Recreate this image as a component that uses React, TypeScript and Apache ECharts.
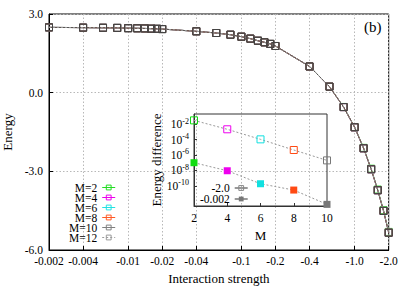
import React, { useEffect, useRef } from 'react';
import * as echarts from 'echarts';

const FONT = 'Liberation Serif';

const strengths = [-0.002, -0.004, -0.006, -0.008, -0.01, -0.012, -0.014, -0.016, -0.018, -0.02, -0.04, -0.06, -0.08, -0.1, -0.12, -0.14, -0.16, -0.18, -0.2, -0.4, -0.6, -0.8, -1.0, -1.2, -1.4, -1.6, -1.8, -2.0];
const energyLargeM = [2.49, 2.48, 2.475, 2.47, 2.46, 2.455, 2.45, 2.44, 2.435, 2.425, 2.34, 2.275, 2.21, 2.135, 2.06, 1.98, 1.92, 1.86, 1.78, 1.0, 0.23, -0.55, -1.32, -2.12, -2.92, -3.72, -4.51, -5.34];
const energyM2 = [2.49, 2.48, 2.475, 2.47, 2.46, 2.455, 2.45, 2.44, 2.435, 2.425, 2.34, 2.275, 2.21, 2.135, 2.06, 1.98, 1.92, 1.86, 1.78, 1.0, 0.232, -0.545, -1.31, -2.105, -2.9, -3.695, -4.48, -5.31];

const mLabels = ['M=2', 'M=4', 'M=6', 'M=8', 'M=10', 'M=12'];
const mColors = ['#22dd22', '#ee00ee', '#22e2e2', '#ff5a26', '#808080', '#9a9a9a'];
const mEnergies = [energyM2, energyLargeM, energyLargeM, energyLargeM, energyLargeM, energyLargeM];

const xTickValues = [-0.002, -0.004, -0.01, -0.02, -0.04, -0.1, -0.2, -0.4, -1.0, -2.0];
const xTickLabels = ['-0.002', '-0.004', '-0.01', '-0.02', '-0.04', '-0.1', '-0.2', '-0.4', '-1.0', '-2.0'];

const insetM = [2, 4, 6, 8, 10];
const insetColors = ['#11dd11', '#ee00ee', '#11e0e0', '#ff4a14', '#777777'];
const diffStrong = [3.0e-2, 2.1e-3, 1.05e-4, 4.4e-6, 2.0e-7]; // interaction -2.0
const diffWeak = [1.0e-7, 9.1e-9, 1.9e-10, 2.9e-11, 4.1e-13]; // interaction -0.002
const insetYTicks = [1e-10, 1e-8, 1e-6, 1e-4, 1e-2];

const lg = (v: number) => Math.log10(Math.abs(v));

export default function App() {
  const ref = useRef<HTMLDivElement>(null);
  useEffect(() => {
    if (!ref.current) return;
    const chart = echarts.init(ref.current, undefined, { renderer: 'svg' });
    const mainSeries = mLabels.map((name, i) => ({
      name,
      type: 'line',
      xAxisIndex: 0,
      yAxisIndex: 0,
      data: strengths.map((s, k) => [lg(s), mEnergies[i][k]]),
      symbol: 'rect',
      symbolSize: 7,
      itemStyle: { color: 'transparent', borderColor: i >= 4 ? '#444' : mColors[i], borderWidth: 1 },
      lineStyle: { color: i === 5 ? '#9a9a9a' : i === 4 ? '#555' : mColors[i], width: 1, type: i === 5 ? [2, 2] : 'solid' },
      z: 2 + i,
    }));
    const insetSeries = [
      {
        name: '-2.0',
        type: 'line',
        xAxisIndex: 1,
        yAxisIndex: 1,
        data: insetM.map((m, k) => ({ value: [m, lg(diffStrong[k])], itemStyle: { borderColor: insetColors[k] } })),
        symbol: 'rect',
        symbolSize: 7,
        itemStyle: { color: 'transparent', borderColor: '#888', borderWidth: 1 },
        lineStyle: { color: '#999', width: 1, type: [2, 2] },
        z: 10,
      },
      {
        name: '-0.002',
        type: 'line',
        xAxisIndex: 1,
        yAxisIndex: 1,
        data: insetM.map((m, k) => ({ value: [m, lg(diffWeak[k])], itemStyle: { color: insetColors[k] } })),
        symbol: 'rect',
        symbolSize: 7,
        itemStyle: { color: '#777' },
        lineStyle: { color: '#999', width: 1, type: [2, 2] },
        z: 10,
      },
    ];
    const axisText = { color: '#000', fontFamily: FONT, fontSize: 11.5 };
    chart.setOption({
      animation: false,
      backgroundColor: '#fff',
      textStyle: { fontFamily: FONT },
      grid: [
        { left: 49, top: 14, width: 339.7, height: 236, show: true, borderColor: '#000', borderWidth: 1, backgroundColor: 'transparent', containLabel: false, outerBoundsMode: 'none' },
        { left: 194, top: 114, width: 133, height: 92, show: true, borderColor: '#333', borderWidth: 1, backgroundColor: 'transparent', containLabel: false, outerBoundsMode: 'none', z: 5 },
      ],
      xAxis: [
        {
          type: 'value',
          gridIndex: 0,
          min: lg(-0.002),
          max: lg(-2.0),
          name: 'Interaction strength',
          nameLocation: 'middle',
          nameGap: 21,
          nameTextStyle: { color: '#000', fontFamily: FONT, fontSize: 13 },
          axisLine: { onZero: false, lineStyle: { color: '#000' } },
          axisTick: { inside: true, length: 4, lineStyle: { color: '#000' }, customValues: xTickValues.map(lg) },
          axisLabel: {
            ...axisText,
            margin: 5,
            customValues: xTickValues.map(lg),
            formatter: (v: number) => {
              const i = xTickValues.findIndex((t) => Math.abs(lg(t) - v) < 1e-6);
              return i >= 0 ? xTickLabels[i] : '';
            },
          },
          splitLine: { show: true, lineStyle: { color: '#b8b8b8', type: [1.5, 2], width: 1 } },
        },
        {
          type: 'value',
          gridIndex: 1,
          min: 2,
          max: 10,
          interval: 2,
          name: 'M',
          nameLocation: 'middle',
          nameGap: 23,
          nameTextStyle: { color: '#000', fontFamily: FONT, fontSize: 13 },
          axisLine: { onZero: false, lineStyle: { color: '#333' } },
          axisTick: { inside: true, length: 3, lineStyle: { color: '#333' } },
          axisLabel: { ...axisText, margin: 6 },
          splitLine: { show: false },
        },
      ],
      yAxis: [
        {
          type: 'value',
          gridIndex: 0,
          min: -6,
          max: 3,
          interval: 3,
          name: 'Energy',
          nameLocation: 'middle',
          nameGap: 34,
          nameTextStyle: { color: '#000', fontFamily: FONT, fontSize: 13 },
          axisLine: { onZero: false, lineStyle: { color: '#000' } },
          axisTick: { inside: true, length: 4, lineStyle: { color: '#000' } },
          axisLabel: { ...axisText, margin: 6, formatter: (v: number) => v.toFixed(1) },
          splitLine: { show: true, lineStyle: { color: '#b8b8b8', type: [1.5, 2], width: 1 } },
        },
        {
          type: 'value',
          gridIndex: 1,
          min: -12.6,
          max: -0.7,
          name: 'Energy difference',
          nameLocation: 'middle',
          nameGap: 31,
          nameTextStyle: { color: '#000', fontFamily: FONT, fontSize: 13 },
          axisLine: { onZero: false, lineStyle: { color: '#333' } },
          axisTick: { inside: true, length: 3, lineStyle: { color: '#333' }, customValues: insetYTicks.map(Math.log10) },
          axisLabel: {
            color: '#000',
            fontFamily: FONT,
            margin: 5,
            customValues: insetYTicks.map(Math.log10),
            formatter: (v: number) => `{b|10}{s|${Math.round(v)}}`,
            rich: {
              b: { fontSize: 11.5, lineHeight: 14, fontFamily: FONT, color: '#000' },
              s: { fontSize: 8, lineHeight: 8, verticalAlign: 'top', fontFamily: FONT, color: '#000' },
            },
          },
          splitLine: { show: false },
        },
      ],
      legend: [
        {
          orient: 'vertical',
          align: 'right',
          left: 69,
          top: 181.5,
          padding: 0,
          itemGap: -2,
          itemWidth: 13,
          itemHeight: 6,
          textStyle: { color: '#000', fontFamily: FONT, fontSize: 11.5 },
          data: mLabels.map((name, i) => ({
            name,
            itemStyle: { color: 'transparent', borderColor: mColors[i], borderWidth: 1 },
            lineStyle: { color: mColors[i], width: 1, type: i === 5 ? [2, 2] : 'solid' },
          })),
        },
        {
          orient: 'vertical',
          align: 'right',
          left: 200,
          top: 182,
          padding: 0,
          itemGap: -1,
          itemWidth: 13,
          itemHeight: 6,
          textStyle: { color: '#000', fontFamily: FONT, fontSize: 11.5 },
          data: [
            { name: '-2.0', itemStyle: { color: 'transparent', borderColor: '#888', borderWidth: 1 }, lineStyle: { type: 'solid', color: '#999' } },
            { name: '-0.002', itemStyle: { color: '#777' }, lineStyle: { type: 'solid', color: '#999' } },
          ],
        },
      ],
      graphic: [
        { type: 'text', left: 364, top: 19, style: { text: '(b)', fontFamily: FONT, fontSize: 15, fill: '#000' } },
      ],
      series: [...mainSeries, ...insetSeries],
    });
    return () => chart.dispose();
  }, []);
  return <div ref={ref} style={{ position: 'absolute', left: 0, top: 0, width: 409, height: 287 }} />;
}
